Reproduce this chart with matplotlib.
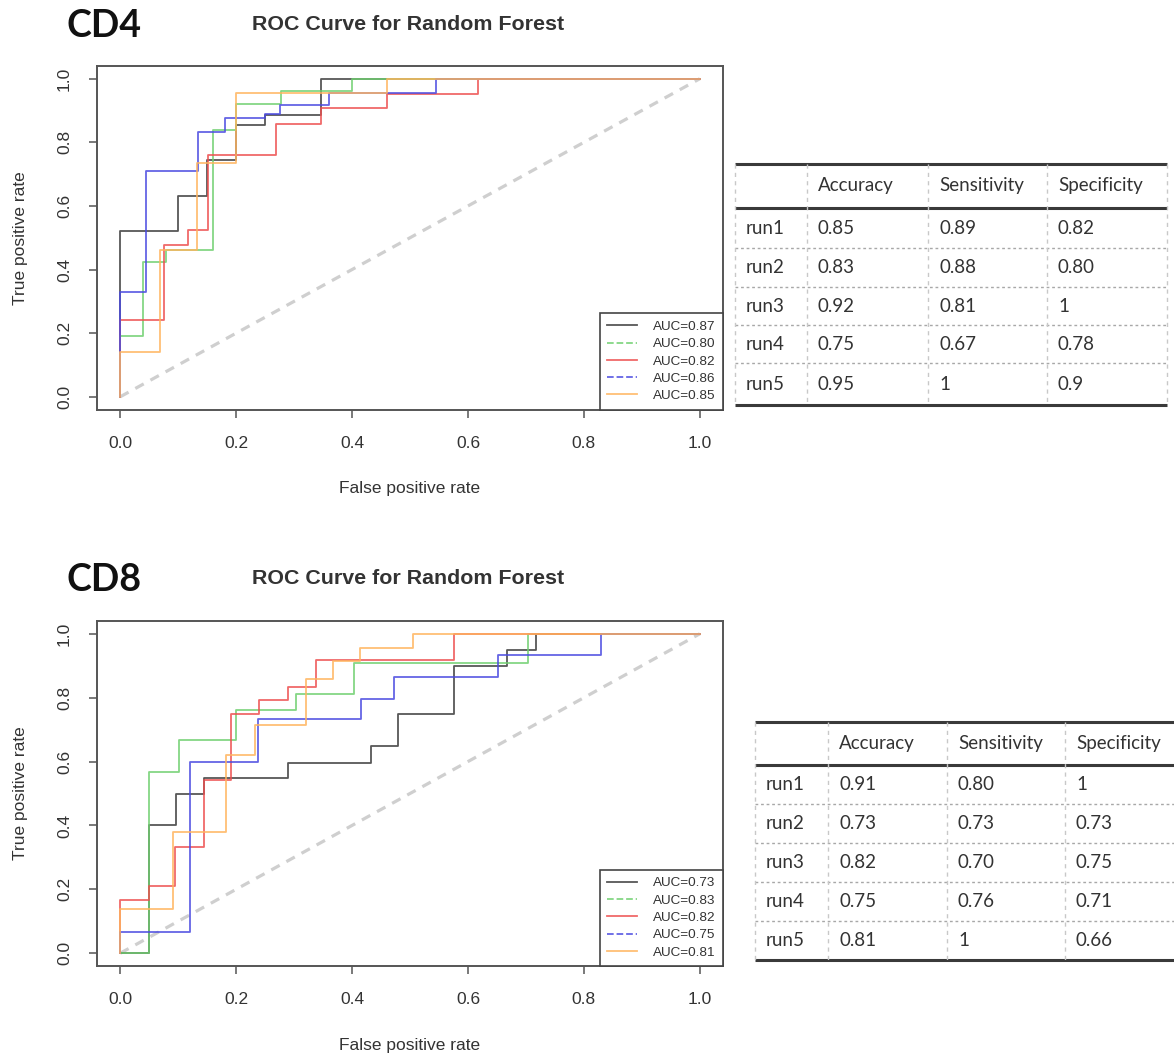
import matplotlib
matplotlib.use("Agg")
import matplotlib.pyplot as plt
from matplotlib.lines import Line2D

# ---------------- data ----------------
panel_names = ["CD4", "CD8"]
plot_title = "ROC Curve for Random Forest"
x_label = "False positive rate"
y_label = "True positive rate"
tick_values = [0.0, 0.2, 0.4, 0.6, 0.8, 1.0]
tick_labels = ["0.0", "0.2", "0.4", "0.6", "0.8", "1.0"]

run_colors = ["#3a3a3a", "#6fd06f", "#ee4f4f", "#4a4ae0", "#ffb45e"]
legend_styles = ["-", "--", "-", "--", "-"]

# CD4 ROC curves (corner points)
cd4_fpr = [
    [0, 0, 0.10, 0.10, 0.15, 0.15, 0.20, 0.20, 0.25, 0.25, 0.347, 0.347, 1.0],
    [0, 0, 0.04, 0.04, 0.079, 0.079, 0.16, 0.16, 0.20, 0.20, 0.277, 0.277, 0.40, 0.40, 1.0],
    [0, 0, 0.076, 0.076, 0.117, 0.117, 0.151, 0.151, 0.269, 0.269, 0.347, 0.347, 0.46, 0.46, 0.617, 0.617, 1.0],
    [0, 0, 0.044, 0.044, 0.135, 0.135, 0.18, 0.18, 0.249, 0.249, 0.275, 0.275, 0.36, 0.36, 0.545, 0.545, 1.0],
    [0, 0, 0.068, 0.068, 0.133, 0.133, 0.20, 0.20, 0.46, 0.46, 1.0],
]
cd4_tpr = [
    [0, 0.52, 0.52, 0.63, 0.63, 0.745, 0.745, 0.853, 0.853, 0.885, 0.885, 1.0, 1.0],
    [0, 0.19, 0.19, 0.424, 0.424, 0.46, 0.46, 0.84, 0.84, 0.92, 0.92, 0.96, 0.96, 1.0, 1.0],
    [0, 0.24, 0.24, 0.476, 0.476, 0.523, 0.523, 0.76, 0.76, 0.858, 0.858, 0.907, 0.907, 0.953, 0.953, 1.0, 1.0],
    [0, 0.33, 0.33, 0.71, 0.71, 0.832, 0.832, 0.875, 0.875, 0.89, 0.89, 0.916, 0.916, 0.955, 0.955, 1.0, 1.0],
    [0, 0.14, 0.14, 0.461, 0.461, 0.735, 0.735, 0.955, 0.955, 1.0, 1.0],
]
cd4_auc = ["AUC=0.87", "AUC=0.80", "AUC=0.82", "AUC=0.86", "AUC=0.85"]

# CD8 ROC curves (corner points)
cd8_fpr = [
    [0, 0.05, 0.05, 0.097, 0.097, 0.145, 0.145, 0.289, 0.289, 0.433, 0.433, 0.48, 0.48, 0.576, 0.576, 0.668, 0.668, 0.717, 0.717, 1.0],
    [0, 0.05, 0.05, 0.102, 0.102, 0.20, 0.20, 0.303, 0.303, 0.404, 0.404, 0.703, 0.703, 1.0],
    [0, 0, 0.05, 0.05, 0.094, 0.094, 0.145, 0.145, 0.192, 0.192, 0.24, 0.24, 0.289, 0.289, 0.337, 0.337, 0.576, 0.576, 1.0],
    [0, 0, 0.12, 0.12, 0.237, 0.237, 0.415, 0.415, 0.473, 0.473, 0.651, 0.651, 0.829, 0.829, 1.0],
    [0, 0, 0.091, 0.091, 0.183, 0.183, 0.232, 0.232, 0.321, 0.321, 0.367, 0.367, 0.413, 0.413, 0.505, 0.505, 1.0],
]
cd8_tpr = [
    [0, 0, 0.40, 0.40, 0.50, 0.50, 0.547, 0.547, 0.597, 0.597, 0.649, 0.649, 0.749, 0.749, 0.90, 0.90, 0.948, 0.948, 1.0, 1.0],
    [0, 0, 0.567, 0.567, 0.667, 0.667, 0.76, 0.76, 0.813, 0.813, 0.907, 0.907, 1.0, 1.0],
    [0, 0.167, 0.167, 0.209, 0.209, 0.334, 0.334, 0.542, 0.542, 0.75, 0.75, 0.792, 0.792, 0.834, 0.834, 0.917, 0.917, 1.0, 1.0],
    [0, 0.067, 0.067, 0.60, 0.60, 0.734, 0.734, 0.797, 0.797, 0.866, 0.866, 0.933, 0.933, 1.0, 1.0],
    [0, 0.14, 0.14, 0.38, 0.38, 0.62, 0.62, 0.714, 0.714, 0.86, 0.86, 0.914, 0.914, 0.954, 0.954, 1.0, 1.0],
]
cd8_auc = ["AUC=0.73", "AUC=0.83", "AUC=0.82", "AUC=0.75", "AUC=0.81"]

table_columns = ["", "Accuracy", "Sensitivity", "Specificity"]
table_rows = ["run1", "run2", "run3", "run4", "run5"]
cd4_accuracy = ["0.85", "0.83", "0.92", "0.75", "0.95"]
cd4_sensitivity = ["0.89", "0.88", "0.81", "0.67", "1"]
cd4_specificity = ["0.82", "0.80", "1", "0.78", "0.9"]
cd8_accuracy = ["0.91", "0.73", "0.82", "0.75", "0.81"]
cd8_sensitivity = ["0.80", "0.73", "0.70", "0.76", "1"]
cd8_specificity = ["1", "0.73", "0.75", "0.71", "0.66"]

# ---------------- figure ----------------
W, H = 1174, 1054
fig = plt.figure(figsize=(W / 100, H / 100), dpi=100)
plt.rcParams['font.family'] = ['Liberation Sans', 'DejaVu Sans']

TXT = "#333333"
FRAME = "#555555"


def px_axes(left, top, right, bottom, **kw):
    return fig.add_axes([left / W, 1 - bottom / H, (right - left) / W, (bottom - top) / H], **kw)


def roc_panel(top, bottom, fprs, tprs, aucs, name, name_y, title_y):
    ax = px_axes(97, top, 723, bottom)
    ax.plot([0, 1], [0, 1], color="#cfcfcf", lw=2.3, ls=(0, (3, 2.4)), zorder=1)
    for f, t, c in zip(fprs, tprs, run_colors):
        ax.plot(f, t, color=c, lw=1.3, alpha=0.85, zorder=2)
    ax.set_xlim(-0.04, 1.04)
    ax.set_ylim(-0.04, 1.04)
    ax.set_xticks(tick_values)
    ax.set_xticklabels(tick_labels)
    ax.set_yticks(tick_values)
    ax.set_yticklabels(tick_labels, rotation=90, va="center")
    ax.tick_params(axis="both", length=6, width=1.1, color=FRAME, labelsize=12.5,
                   labelcolor=TXT)
    ax.tick_params(axis="x", pad=13)
    ax.tick_params(axis="y", pad=12)
    for s in ax.spines.values():
        s.set_color(FRAME)
        s.set_linewidth(1.4)
    ax.set_xlabel(x_label, fontsize=12.5, color=TXT, labelpad=22)
    ax.set_ylabel(y_label, fontsize=12.5, color=TXT, labelpad=21)
    handles = [Line2D([0], [0], color=c, lw=1.3, ls=ls, alpha=0.85)
               for c, ls in zip(run_colors, legend_styles)]
    leg = ax.legend(handles, aucs, loc="lower right", borderaxespad=0, fontsize=9.7,
                    frameon=True, fancybox=False, framealpha=1, edgecolor="#444444",
                    handlelength=2.2, handletextpad=1.2, labelspacing=0.36,
                    borderpad=0.55, labelcolor=TXT)
    leg.get_frame().set_linewidth(1.2)
    fig.text(67 / W, 1 - name_y / H, name, fontsize=27, fontweight="bold",
             family=["Lato", "DejaVu Sans"], color="#111111", va="center", ha="left")
    fig.text(408 / W, 1 - title_y / H, plot_title, fontsize=15.4, fontweight="bold",
             color=TXT, va="center", ha="center")
    return ax


roc_panel(66, 409.5, cd4_fpr, cd4_tpr, cd4_auc, panel_names[0], 26, 25)
roc_panel(621, 966, cd8_fpr, cd8_tpr, cd8_auc, panel_names[1], 580, 578)

# ---------------- tables ----------------
tax = fig.add_axes([0, 0, 1, 1])
tax.set_xlim(0, W)
tax.set_ylim(H, 0)
tax.axis("off")


def draw_table(x_edges, y_edges, acc, sen, spe):
    left, right = x_edges[0], x_edges[-1]
    top, bottom = y_edges[0], y_edges[-1]
    tfont = dict(family=["Lato", "DejaVu Sans"], fontsize=13.5, color=TXT, va="center")
    for y in (top, y_edges[1], bottom):
        tax.plot([left, right], [y, y], color="#3a3a3a", lw=2.2, solid_capstyle="butt")
    for y in y_edges[2:-1]:
        tax.plot([left, right], [y, y], color="#a8a8a8", lw=1.0, ls=(0, (2, 2)))
    for x in x_edges:
        tax.plot([x, x], [top, bottom], color="#c8c8c8", lw=1.0, ls=(0, (3, 3)))
    for j, col in enumerate(table_columns):
        if col:
            tax.text(x_edges[j] + 11, (y_edges[0] + y_edges[1]) / 2, col, **tfont)
    cols = [table_rows, acc, sen, spe]
    for i in range(len(table_rows)):
        yc = (y_edges[i + 1] + y_edges[i + 2]) / 2
        for j, colvals in enumerate(cols):
            tax.text(x_edges[j] + 11, yc, colvals[i], **tfont)


draw_table([735, 807, 928, 1047, 1167], [164, 208, 248, 287, 325, 363, 405],
           cd4_accuracy, cd4_sensitivity, cd4_specificity)
draw_table([755, 828, 947, 1065, 1186], [722, 765, 804, 843, 882, 921, 960],
           cd8_accuracy, cd8_sensitivity, cd8_specificity)

fig.savefig("out.png", dpi=100)
